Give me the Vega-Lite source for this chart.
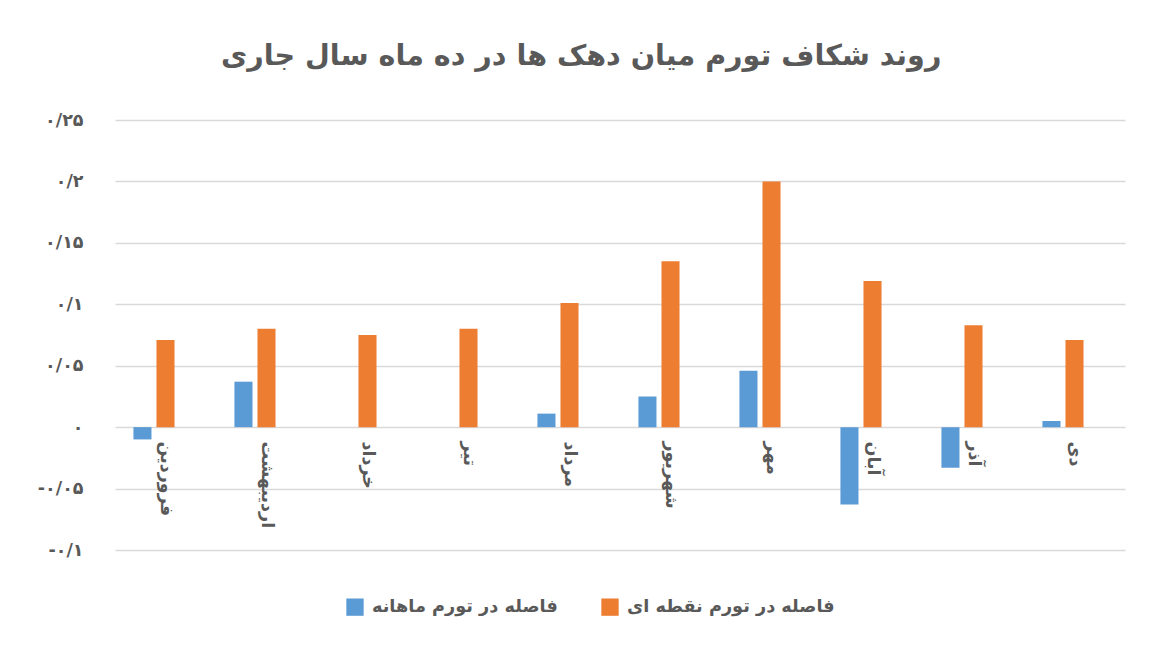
{
  "$schema": "https://vega.github.io/schema/vega-lite/v6.json",
  "autosize": "none",
  "width": 1010,
  "height": 430,
  "padding": {"left": 115, "top": 120, "right": 39, "bottom": 112},
  "background": "white",
  "title": {
    "text": "روند شکاف تورم میان دهک ها در ده ماه سال جاری",
    "font": "DejaVu Sans",
    "fontSize": 28.6,
    "fontWeight": "bold",
    "color": "#595959",
    "anchor": "middle",
    "frame": "bounds",
    "baseline": "alphabetic",
    "offset": 17
  },
  "data": {
    "values": [
      {"month": "فروردین", "series": "فاصله در تورم ماهانه", "value": -0.010},
      {"month": "فروردین", "series": "فاصله در تورم نقطه ای", "value": 0.071},
      {"month": "اردیبهشت", "series": "فاصله در تورم ماهانه", "value": 0.037},
      {"month": "اردیبهشت", "series": "فاصله در تورم نقطه ای", "value": 0.080},
      {"month": "خرداد", "series": "فاصله در تورم ماهانه", "value": 0.0},
      {"month": "خرداد", "series": "فاصله در تورم نقطه ای", "value": 0.075},
      {"month": "تیر", "series": "فاصله در تورم ماهانه", "value": 0.0},
      {"month": "تیر", "series": "فاصله در تورم نقطه ای", "value": 0.080},
      {"month": "مرداد", "series": "فاصله در تورم ماهانه", "value": 0.011},
      {"month": "مرداد", "series": "فاصله در تورم نقطه ای", "value": 0.101},
      {"month": "شهریور", "series": "فاصله در تورم ماهانه", "value": 0.025},
      {"month": "شهریور", "series": "فاصله در تورم نقطه ای", "value": 0.135},
      {"month": "مهر", "series": "فاصله در تورم ماهانه", "value": 0.046},
      {"month": "مهر", "series": "فاصله در تورم نقطه ای", "value": 0.200},
      {"month": "آبان", "series": "فاصله در تورم ماهانه", "value": -0.063},
      {"month": "آبان", "series": "فاصله در تورم نقطه ای", "value": 0.119},
      {"month": "آذر", "series": "فاصله در تورم ماهانه", "value": -0.033},
      {"month": "آذر", "series": "فاصله در تورم نقطه ای", "value": 0.083},
      {"month": "دی", "series": "فاصله در تورم ماهانه", "value": 0.005},
      {"month": "دی", "series": "فاصله در تورم نقطه ای", "value": 0.071}
    ]
  },
  "mark": {"type": "bar", "orient": "vertical"},
  "encoding": {
    "x": {
      "field": "month",
      "type": "nominal",
      "sort": null,
      "title": null,
      "scale": {"paddingInner": 0, "paddingOuter": 0},
      "axis": {
        "orient": "bottom",
        "offset": -122,
        "domain": false,
        "ticks": false,
        "grid": false,
        "labelAngle": 90,
        "labelPadding": 13,
        "labelFont": "DejaVu Sans",
        "labelFontSize": 17.5,
        "labelFontWeight": "bold",
        "labelColor": "#595959"
      }
    },
    "xOffset": {
      "field": "series",
      "type": "nominal",
      "scale": {
        "domain": ["فاصله در تورم ماهانه", "فاصله در تورم نقطه ای", "_"],
        "paddingInner": 0.217,
        "paddingOuter": 0.8
      }
    },
    "y": {
      "field": "value",
      "type": "quantitative",
      "title": null,
      "scale": {"domain": [-0.1, 0.25], "nice": false, "zero": false},
      "axis": {
        "values": [-0.1, -0.05, 0, 0.05, 0.1, 0.15, 0.2, 0.25],
        "domain": false,
        "ticks": false,
        "gridColor": "#d9d9d9",
        "gridWidth": 1.5,
        "labelPadding": 32,
        "labelFont": "DejaVu Sans",
        "labelFontSize": 17.5,
        "labelFontWeight": "bold",
        "labelColor": "#595959",
        "labelExpr": "datum.value == 0.25 ? '۰/۲۵' : datum.value == 0.2 ? '۰/۲' : datum.value == 0.15 ? '۰/۱۵' : datum.value == 0.1 ? '۰/۱' : datum.value == 0.05 ? '۰/۰۵' : datum.value == 0 ? '۰' : datum.value == -0.05 ? '-۰/۰۵' : '-۰/۱'"
      }
    },
    "color": {
      "field": "series",
      "type": "nominal",
      "scale": {
        "domain": ["فاصله در تورم ماهانه", "فاصله در تورم نقطه ای"],
        "range": ["#5b9bd5", "#ed7d31"]
      },
      "legend": {
        "title": null,
        "orient": "none",
        "direction": "horizontal",
        "legendX": 231,
        "legendY": 478,
        "padding": 0,
        "symbolType": "square",
        "symbolSize": 300,
        "symbolStrokeWidth": 0,
        "symbolOpacity": 1,
        "labelFont": "DejaVu Sans",
        "labelFontSize": 17.7,
        "labelFontWeight": "bold",
        "labelColor": "#595959",
        "labelOffset": 8,
        "columnPadding": 43,
        "labelLimit": 400
      }
    }
  },
  "config": {
    "view": {"stroke": null}
  }
}
